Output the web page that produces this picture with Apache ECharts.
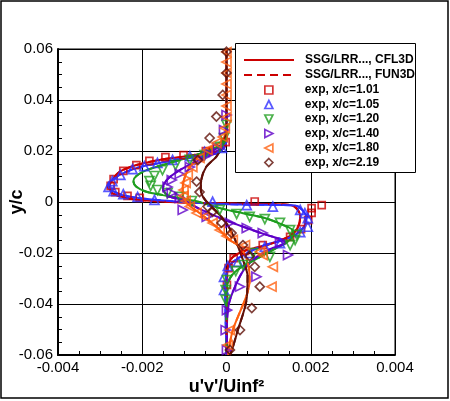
<!DOCTYPE html>
<html><head><meta charset="utf-8">
<script src="https://cdn.jsdelivr.net/npm/echarts@6/dist/echarts.min.js"></script>
<style>html,body{margin:0;padding:0;background:#fff}#c{width:450px;height:401px}</style>
</head><body><div id="c"></div>
<script>
// Legend / series labels
const lineNames = ["SSG/LRR..., CFL3D", "SSG/LRR..., FUN3D"];
const expNames = ["exp, x/c=1.01", "exp, x/c=1.05", "exp, x/c=1.20", "exp, x/c=1.40", "exp, x/c=1.80", "exp, x/c=2.19"];

// Computed profiles [u'v'/Uinf^2, y/c]
const cfd101 = [[0,0.06],[0,0.04],[0,0.0243],[-0.00011,0.0204],[-0.00064,0.0188],[-0.00111,0.0176],[-0.00159,0.0165],[-0.00214,0.0145],[-0.00254,0.0118],[-0.00273,0.0082],[-0.00278,0.0063],[-0.00271,0.0035],[-0.00237,0.0016],[-0.00206,0.0008],[-0.00135,0],[-0.00064,-0.0004],[0.00008,-0.0006],[0.00079,-0.0008],[0.00139,-0.0010],[0.00163,-0.0020],[0.00175,-0.0055],[0.0017,-0.0098],[0.00151,-0.0133],[0.00096,-0.0169],[0.00048,-0.0188],[0.00015,-0.0216],[0.00003,-0.0255],[0.00001,-0.0345],[0,-0.06]];
const cfd105 = [[0,0.06],[0,0.0243],[-0.00016,0.0196],[-0.00075,0.0176],[-0.00123,0.0165],[-0.00159,0.0153],[-0.00214,0.0133],[-0.00254,0.0106],[-0.00274,0.0080],[-0.00282,0.0063],[-0.00274,0.0047],[-0.00247,0.0027],[-0.00206,0.0015],[-0.00135,0.0004],[-0.00064,-0.0004],[0.00032,-0.0010],[0.00127,-0.0012],[0.00167,-0.0016],[0.00184,-0.0039],[0.0019,-0.0059],[0.00184,-0.0097],[0.00163,-0.0129],[0.00135,-0.0149],[0.00087,-0.0171],[0.00048,-0.0201],[0.00012,-0.0240],[0,-0.0280],[-0.00003,-0.0345],[0,-0.06]];
const cfd120 = [[0,0.06],[0,0.0263],[-0.00006,0.0231],[-0.0004,0.0204],[-0.00072,0.0184],[-0.00135,0.0153],[-0.0019,0.0125],[-0.00214,0.0102],[-0.00221,0.0082],[-0.00214,0.0060],[-0.0019,0.0040],[-0.00151,0.0027],[-0.00111,0.0015],[-0.00064,0],[-0.00016,-0.0024],[0.00048,-0.0047],[0.00091,-0.0063],[0.00134,-0.0090],[0.00158,-0.0114],[0.00155,-0.0141],[0.00136,-0.0165],[0.0011,-0.0188],[0.00067,-0.0227],[0.00032,-0.0259],[0.0001,-0.0294],[0,-0.0345],[0,-0.06]];
const cfd140 = [[0,0.06],[0,0.0282],[-0.00011,0.0224],[-0.0004,0.0196],[-0.00064,0.0165],[-0.00111,0.0125],[-0.00142,0.0086],[-0.00151,0.0051],[-0.00135,0.0021],[-0.00104,0.0008],[-0.00064,-0.0027],[-0.00009,-0.0067],[0.00048,-0.0102],[0.00095,-0.0129],[0.00134,-0.0149],[0.00141,-0.0161],[0.0011,-0.0180],[0.00072,-0.0215],[0.00044,-0.0259],[0.00022,-0.0325],[0.00005,-0.0404],[0.00001,-0.0502],[0.00001,-0.06]];
const cfd180 = [[0,0.06],[0,0.0322],[-0.00009,0.0243],[-0.00048,0.0204],[-0.0008,0.0153],[-0.00097,0.0106],[-0.00104,0.0055],[-0.00102,0.0016],[-0.00087,-0.0016],[-0.00064,-0.0043],[-0.00024,-0.0097],[0.00008,-0.0149],[0.00027,-0.0169],[0.00044,-0.0208],[0.00053,-0.0259],[0.00055,-0.0306],[0.00048,-0.0365],[0.00032,-0.0431],[0.00015,-0.0502],[0.00005,-0.058],[0.00004,-0.06]];
const cfd219 = [[0,0.06],[0,0.0282],[-0.00009,0.0224],[-0.00024,0.0178],[-0.00048,0.0138],[-0.0006,0.0086],[-0.00061,0.0047],[-0.00056,0.0021],[-0.0004,-0.0012],[-0.00016,-0.0051],[0.00003,-0.0090],[0.00024,-0.0161],[0.00039,-0.0227],[0.00050,-0.0290],[0.00047,-0.0390],[0.00027,-0.0502],[0.00013,-0.058],[0.00008,-0.06]];

// Experimental data [u'v'/Uinf^2, y/c]
const exp101 = [[-0.00002,0.0235],[-0.00049,0.0200],[-0.00102,0.0184],[-0.00145,0.0176],[-0.00183,0.0161],[-0.00214,0.0145],[-0.00245,0.0122],[-0.00268,0.0090],[-0.00275,0.0063],[-0.00264,0.0039],[-0.00235,0.0024],[-0.00206,0.0016],[0.00067,0.0002],[0.00226,-0.0012],[0.00202,-0.0024],[0.00202,-0.0043],[0.00194,-0.0071],[0.00177,-0.0106],[0.00151,-0.0137],[0.00086,-0.0169],[0.00044,-0.0192],[0.00017,-0.0220],[0.00005,-0.0259],[0.00001,-0.0325]];
const exp105 = [[-0.00011,0.0212],[-0.00052,0.0196],[-0.00087,0.0180],[-0.00128,0.0165],[-0.00164,0.0153],[-0.00195,0.0141],[-0.00223,0.0129],[-0.00252,0.0106],[-0.00271,0.0082],[-0.0028,0.0059],[-0.00268,0.0043],[-0.00245,0.0031],[-0.00211,0.0020],[-0.00171,0.0008],[-0.00033,0.0001],[0.00048,-0.0012],[0.0011,-0.0018],[0.00175,-0.0031],[0.00186,-0.0044],[0.00193,-0.0063],[0.00193,-0.0097],[0.00175,-0.0118],[0.00127,-0.0161],[0.00091,-0.0176],[0.00055,-0.0200],[0.00027,-0.0235],[0.00003,-0.0251],[-0.00006,-0.0294],[-0.00006,-0.0345]];
const exp120 = [[0,0.0302],[-0.00006,0.0251],[-0.00016,0.0216],[-0.00052,0.0184],[-0.00087,0.0165],[-0.00121,0.0145],[-0.00152,0.0125],[-0.00171,0.0102],[-0.00183,0.0082],[-0.0018,0.0063],[-0.00164,0.0047],[-0.0014,0.0035],[-0.00111,0.0020],[-0.00082,0.0004],[-0.00016,-0.0031],[0.00024,-0.0047],[0.00055,-0.0058],[0.00091,-0.0067],[0.00127,-0.0082],[0.00151,-0.0110],[0.00167,-0.0129],[0.00163,-0.0149],[0.00151,-0.0169],[0.00103,-0.0215],[0.00063,-0.0200],[0.00039,-0.0247],[0.00022,-0.0271],[0.00001,-0.0306],[-0.00002,-0.0345],[-0.00002,-0.0384]];
const exp140 = [[0,0.0341],[-0.00006,0.0282],[-0.00021,0.0212],[-0.0004,0.0188],[-0.00064,0.0165],[-0.00087,0.0137],[-0.00111,0.0110],[-0.0013,0.0086],[-0.0014,0.0059],[-0.0013,0.0035],[-0.00111,0.0016],[-0.00104,-0.0031],[-0.00047,-0.0058],[0.00008,-0.0082],[0.00048,-0.0102],[0.00086,-0.0122],[0.00127,-0.0161],[0.00146,-0.0208],[0.00071,-0.0293],[0.00032,-0.0332],[0.00001,-0.0424],[-0.00002,-0.0502],[0.00001,-0.058]];
const exp180 = [[0,0.0588],[0,0.0549],[0,0.0506],[0,0.0463],[0,0.0420],[0,0.0376],[0,0.0333],[-0.00004,0.0290],[-0.00009,0.0255],[-0.00024,0.0231],[-0.00045,0.0204],[-0.00064,0.0173],[-0.00081,0.0137],[-0.00092,0.0106],[-0.00097,0.0075],[-0.00102,0.0047],[-0.00102,0.0024],[-0.00097,0.0004],[-0.00087,-0.0018],[-0.00071,-0.0043],[-0.00052,-0.0058],[-0.00033,-0.0082],[-0.00016,-0.0110],[0,-0.0133],[0.00015,-0.0149],[0.00044,-0.0169],[0.00079,-0.0195],[0.00086,-0.0208],[0.0011,-0.0254],[0.00107,-0.0332],[0.00008,-0.0502],[0.00003,-0.0561]];
const exp219 = [[0,0.0589],[0,0.0506],[-0.00009,0.0420],[-0.00024,0.0335],[-0.0004,0.0251],[-0.00068,0.0165],[-0.00071,0.0080],[-0.00064,0.0039],[-0.00045,-0.0018],[-0.00033,-0.0038],[-0.00012,-0.0082],[0.00012,-0.0122],[0.00039,-0.0169],[0.00055,-0.0212],[0.00067,-0.0254],[0.00079,-0.0332],[0.0006,-0.0416],[0.00032,-0.0502],[0.00008,-0.058]];

const colors = ['#cc0000', '#3030ff', '#1e9e1e', '#6000c8', '#ff6010', '#601008'];
const cfdData = [cfd101, cfd105, cfd120, cfd140, cfd180, cfd219];
const expData = [exp101, exp105, exp120, exp140, exp180, exp219];
const symbols = ['rect', 'triangle', 'triangle', 'triangle', 'triangle', 'diamond'];
const rotations = [0, 0, 180, -90, 90, 0];
const sizes = [7, 9, 9, 9, 9, 9];
// legend icon shapes (triangle orientation matches the series symbols)
const legendIcons = ['rect', 'triangle', 'path://M0,0 L10,0 L5,10 Z', 'path://M0,0 L10,5 L0,10 Z', 'path://M10,0 L0,5 L10,10 Z', 'diamond'];

const FONT = "'Liberation Sans', Arial, Helvetica, sans-serif";
const series = [];
cfdData.forEach((d, i) => series.push({
  type: 'line', name: lineNames[0], data: d, symbol: 'none', showSymbol: false, smooth: 0.3,
  lineStyle: { color: colors[i], width: 2 }, itemStyle: { color: colors[i] }, z: 2
}));
cfdData.forEach((d, i) => series.push({
  type: 'line', name: lineNames[1], data: d, symbol: 'none', showSymbol: false, smooth: 0.3,
  lineStyle: { color: colors[i], width: 2, type: [8, 5] }, itemStyle: { color: colors[i] }, z: 2
}));
expData.forEach((d, i) => series.push({
  type: 'scatter', name: expNames[i], data: d, symbol: symbols[i], symbolRotate: rotations[i], symbolSize: sizes[i],
  itemStyle: { color: 'rgba(255,255,255,0)', borderColor: colors[i], borderWidth: 1.7 }, z: 3
}));

const hidden = { color: 'rgba(0,0,0,0)', borderColor: 'rgba(0,0,0,0)', borderWidth: 0 };
const legendText = { fontFamily: FONT, fontSize: 12, fontWeight: 'bold', color: '#000', lineHeight: 14 };

const chart = echarts.init(document.getElementById('c'), null, { renderer: 'canvas' });
chart.setOption({
  animation: false,
  backgroundColor: '#fff',
  grid: { left: 58, right: 55, top: 49, bottom: 46, containLabel: false, outerBoundsMode: 'none', show: true, borderColor: '#000', borderWidth: 1 },
  xAxis: {
    type: 'value', min: -0.004, max: 0.004, interval: 0.002,
    name: "u'v'/Uinf²", nameLocation: 'middle', nameGap: 23, nameMoveOverlap: false,
    nameTextStyle: { fontFamily: FONT, fontSize: 18, fontWeight: 'bold', color: '#000' },
    axisLine: { show: true, onZero: false, lineStyle: { color: '#000', width: 2 } },
    axisTick: { show: true, inside: true, length: 7, lineStyle: { color: '#000', width: 1 } },
    minorTick: { show: true, splitNumber: 4, length: 4, lineStyle: { color: '#000', width: 1 } },
    splitLine: { show: true, lineStyle: { color: '#000', width: 1 } },
    axisLabel: { fontFamily: FONT, fontSize: 15, color: '#000', margin: 5 }
  },
  yAxis: {
    type: 'value', min: -0.06, max: 0.06, interval: 0.02,
    name: 'y/c', nameLocation: 'middle', nameGap: 32, nameRotate: 90, nameMoveOverlap: false,
    nameTextStyle: { fontFamily: FONT, fontSize: 18, fontWeight: 'bold', color: '#000' },
    axisLine: { show: true, onZero: false, lineStyle: { color: '#000', width: 2 } },
    axisTick: { show: true, inside: true, length: 7, lineStyle: { color: '#000', width: 1 } },
    minorTick: { show: true, splitNumber: 4, length: 4, lineStyle: { color: '#000', width: 1 } },
    splitLine: { show: true, lineStyle: { color: '#000', width: 1 } },
    axisLabel: { fontFamily: FONT, fontSize: 15, color: '#000', margin: 5 }
  },
  legend: [{
    orient: 'vertical', left: 243, top: 53, padding: 0, z: 11,
    itemWidth: 50, itemHeight: 8, itemGap: 1,
    textStyle: Object.assign({ padding: [0, 0, 0, 6] }, legendText),
    data: lineNames.map(n => ({ name: n, itemStyle: hidden })),
    selectedMode: false
  }, {
    orient: 'vertical', left: 264, top: 83, padding: 0, z: 11,
    itemWidth: 8, itemHeight: 8, itemGap: 0.5,
    symbolRotate: 0,
    textStyle: Object.assign({ padding: [0, 0, 0, 27] }, legendText),
    itemStyle: { borderWidth: 1.7 },
    data: expNames.map((n, i) => ({ name: n, icon: legendIcons[i], symbolRotate: 0 })),
    selectedMode: false
  }],
  graphic: [
    { type: 'rect', shape: { x: 235.5, y: 43.5, width: 180, height: 129 }, style: { fill: '#fff', stroke: '#000', lineWidth: 1 }, silent: true, z: 10 },
    { type: 'rect', shape: { x: 1, y: 1, width: 447, height: 397 }, style: { fill: 'none', stroke: '#000', lineWidth: 1.5 }, silent: true, z: 100 }
  ],
  series: series
});
</script></body></html>
